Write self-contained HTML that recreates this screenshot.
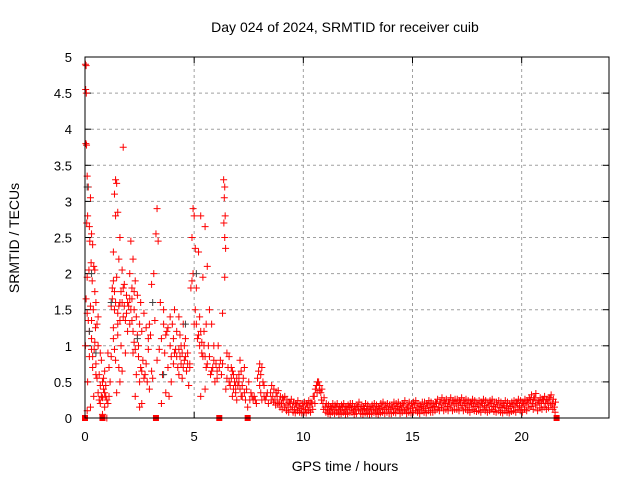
<!DOCTYPE html>
<html><head><meta charset="utf-8"><style>
body{margin:0;background:#fff}
svg{display:block;font-family:"Liberation Sans",sans-serif}
</style></head><body>
<svg id="c" width="640" height="480" xmlns="http://www.w3.org/2000/svg">
<rect width="640" height="480" fill="#fff"/>
<text x="345" y="32" font-size="14" text-anchor="middle">Day 024 of 2024, SRMTID for receiver cuib</text>
<text x="345" y="471" font-size="14" text-anchor="middle">GPS time / hours</text>
<text transform="translate(19,238) rotate(-90)" font-size="14" text-anchor="middle">SRMTID / TECUs</text>
<g id="grid"></g><g id="ticks"></g><g id="marks"></g>
<rect x="85" y="57" width="524" height="361" fill="none" stroke="#000" stroke-width="1"/>
</svg>
<script>
const xTicks=[0,5,10,15,20];
const yTicks=[0,0.5,1,1.5,2,2.5,3,3.5,4,4.5,5];
const yTickLabels=["0","0.5","1","1.5","2","2.5","3","3.5","4","4.5","5"];
const early=[
[0.02,4.9],[0.05,4.88],[0.03,4.55],[0.06,4.5],[0.04,3.8],[0.07,3.78],[0.1,3.35],[0.15,3.2],[0.25,3.05],[0.12,2.8],[0.08,2.7],[0.2,2.65],[0.3,2.55],[0.22,2.45],[0.35,2.4],[0.28,2.15],[0.4,2.1],[0.18,2.05],[0.1,1.95],[0.33,1.9],[0.45,1.75],[0.05,1.65],[0.25,1.55],[0.38,1.5],[0.15,1.35],[0.48,1.25],[0.3,1.1],[0.02,1.0],[0.42,0.95],[0.2,0.85],[0.35,0.7],[0.5,0.6],[0.12,0.5],[0.4,0.3],[0.25,0.15],[0.1,0.1],
[0.55,1.3],[0.6,1.0],[0.7,0.9],[0.75,0.8],[0.65,0.6],[0.8,0.5],[0.85,0.4],[0.9,0.35],[0.95,0.3],[1.0,0.25],[1.05,0.2],[0.9,0.15],[0.8,0.05],[1.0,0.0],[0.6,1.4],[1.1,0.7],[1.15,0.5],[0.7,0.45],
[1.75,3.75],[1.4,3.3],[1.45,3.25],[1.35,3.1],[1.5,2.85],[1.4,2.8],[1.6,2.5],[1.3,2.3],[1.55,2.2],[1.7,2.05],[1.45,1.95],[1.8,1.85],[1.25,1.8],[1.9,1.7],[1.6,1.6],[1.35,1.5],[1.75,1.4],[1.5,1.3],[1.95,1.2],[1.3,1.1],[1.65,1.0],[1.85,0.9],[1.4,0.8],[1.55,0.7],[1.7,0.65],[1.6,0.5],[1.45,0.35],
[2.1,2.45],[2.2,2.2],[2.05,2.0],[2.3,1.9],[2.15,1.8],[2.4,1.7],[2.55,1.6],[2.25,1.5],[2.7,1.45],[2.35,1.4],[2.5,1.3],[2.8,1.25],[2.6,1.2],[2.9,1.1],[2.45,1.0],[2.2,0.9],[2.65,0.8],[2.75,0.6],[2.85,0.5],[2.95,0.4],[2.3,0.3],[2.6,0.2],[2.5,0.15],
[3.3,2.9],[3.25,2.55],[3.35,2.45],[3.15,2.0],[3.05,1.85],[3.45,1.6],[3.6,1.5],[3.2,1.35],[3.75,1.2],[3.5,1.1],[3.9,1.0],[3.4,0.95],[3.65,0.9],[3.3,0.8],[3.8,0.7],[3.55,0.6],[3.95,0.5],[3.7,0.35],[3.85,0.3],[3.5,0.2],
[4.1,1.5],[4.3,1.4],[4.5,1.3],[4.2,1.2],[4.6,1.1],[4.4,1.0],[4.15,0.95],[4.7,0.9],[4.35,0.85],[4.55,0.8],[4.8,0.75],[4.25,0.7],[4.65,0.65],[4.45,0.55],[4.75,0.45],[4.85,1.8],[4.9,1.9],[4.95,2.0],[4.95,2.9],[5.0,2.8],[4.9,2.5],[5.05,2.35],
[5.3,2.8],[5.5,2.65],[5.2,2.3],[5.6,2.1],[5.4,1.95],[5.1,1.8],[5.7,1.5],[5.25,1.4],[5.8,1.3],[5.45,1.2],[5.15,1.1],[5.65,1.0],[5.35,0.9],[5.9,0.8],[5.55,0.7],[5.75,0.6],[5.95,0.5],[5.5,0.4],[5.3,0.3],
[6.35,3.3],[6.4,3.2],[6.38,3.05],[6.42,2.8],[6.36,2.7],[6.4,2.5],[6.44,2.35],[6.4,1.95],[6.3,1.45],[6.1,1.0],[6.5,0.9],[6.2,0.8],[6.7,0.7],[6.05,0.65],[6.8,0.6],[6.6,0.5],[6.9,0.45],[6.45,0.4],[6.75,0.3],[6.95,0.25],
[7.1,0.8],[7.3,0.7],[7.05,0.6],[7.5,0.5],[7.2,0.45],[7.4,0.4],[7.6,0.35],[7.15,0.3],[7.7,0.25],[7.85,0.2],[7.45,0.15],
[8.0,0.75],[8.1,0.7],[8.05,0.6],[8.15,0.5],[8.2,0.45],[8.3,0.3],[8.1,0.25],[8.4,0.2]
];
const early2=[
[0.1,1.45],[0.2,1.2],[0.3,0.95],[0.35,0.85],[0.45,1.05],[0.5,0.75],[0.55,0.55],[0.6,0.35],[0.65,0.25],[0.7,0.2],[0.75,0.3],[0.8,0.28],[0.85,0.55],[0.9,0.65],[0.95,0.45],[1.05,0.9],[1.1,0.3],[0.5,1.6],[0.45,2.05],[0.3,1.35],
[1.2,1.55],[1.25,1.65],[1.3,1.9],[1.35,1.75],[1.4,1.6],[1.5,1.45],[1.55,1.55],[1.6,1.35],[1.65,1.75],[1.7,1.6],[1.75,1.8],[1.8,1.55],[1.85,1.35],[1.9,1.45],[1.95,1.6],[2.0,1.55],[2.05,1.3],[2.1,1.5],[1.3,1.25],[1.35,0.95],[1.5,1.15],[1.2,0.85],
[2.15,1.35],[2.2,1.2],[2.25,1.05],[2.3,0.95],[2.4,1.15],[2.45,0.85],[2.55,0.7],[2.6,0.65],[2.7,0.55],[2.8,0.75],[2.9,0.95],[2.95,1.3],[3.0,1.15],[3.05,0.65],[3.1,0.55],[2.5,0.5],[2.35,0.6],[2.15,1.65],[2.25,1.75],[2.05,1.65],
[3.6,1.3],[3.7,1.15],[3.8,1.25],[3.9,1.4],[4.0,1.3],[4.05,1.1],[4.1,0.9],[4.2,0.85],[4.3,0.95],[4.35,1.15],[4.45,0.9],[4.5,0.7],[4.55,1.0],[4.6,0.85],[4.7,0.75],[4.8,0.7],[4.3,0.6],[4.4,0.75],[3.95,0.85],[4.05,0.75],
[5.0,1.3],[5.05,1.5],[5.1,1.3],[5.2,1.15],[5.25,1.0],[5.3,1.2],[5.35,1.05],[5.4,0.85],[5.45,1.0],[5.5,0.85],[5.55,1.3],[5.6,0.75],[5.7,0.85],[5.8,0.65],[5.85,0.7],[5.9,1.0],[6.0,0.75],[6.05,0.55],[6.15,0.7],[6.25,0.6],
[6.3,0.75],[6.5,0.55],[6.55,0.7],[6.6,0.85],[6.65,0.45],[6.7,0.55],[6.8,0.4],[6.85,0.5],[6.9,0.35],[6.95,0.55],[7.0,0.45],[7.05,0.5],[7.1,0.4],[7.15,0.65],[7.2,0.3],[7.3,0.35],[7.35,0.25],[7.55,0.25],[7.65,0.3],[7.8,0.25],
[7.9,0.55],[7.95,0.65],[8.0,0.45],[8.05,0.35],[8.2,0.3],[8.25,0.25],[8.35,0.35],[7.75,0.3],[7.25,0.55],[6.75,0.65]
];
const blackPts=[[0.1,3.2],[0.3,2.0],[0.5,0.9],[1.2,1.6],[2.4,1.1],[3.1,1.6],[3.6,0.6],[4.6,1.3],[5.1,2.0],[0.2,1.2]];
const tailStart=8.5, tailStep=0.1;
const tailVals=[.35,.3,.25,.3,.22,
.2,.25,.18,.15,.2,.15,.12,.18,.15,.13,
.15,.12,.18,.15,.2,.3,.45,.5,.35,.2,
.15,.12,.1,.14,.12,.15,.1,.12,.15,.1,
.12,.15,.14,.1,.12,.16,.12,.1,.13,.12,
.1,.12,.14,.12,.1,.13,.15,.12,.14,.12,
.12,.15,.13,.16,.12,.14,.18,.12,.15,.13,
.15,.18,.14,.12,.16,.15,.13,.18,.15,.14,
.16,.2,.15,.22,.18,.2,.16,.22,.18,.2,
.2,.18,.22,.17,.2,.18,.15,.2,.18,.16,
.18,.15,.2,.17,.15,.18,.2,.16,.15,.18,
.15,.14,.17,.15,.13,.16,.18,.15,.2,.17,
.15,.2,.18,.22,.25,.2,.28,.18,.22,.2,
.25,.2,.22,.28,.2,.15];
const tailUpper=[.45,.4,.35,.38,.3,
.28,.3,.25,.22,.26,.22,.2,.24,.2,.2,
.22,.2,.24,.22,.3,.4,.5,.45,.4,.28,
.2,.18,.16,.2,.18,.2,.16,.18,.2,.16,
.18,.2,.2,.16,.18,.22,.18,.16,.2,.18,
.16,.18,.2,.18,.16,.2,.22,.18,.2,.18,
.18,.22,.2,.22,.18,.2,.24,.18,.22,.2,
.22,.24,.2,.18,.22,.22,.2,.24,.22,.2,
.22,.26,.22,.28,.24,.26,.22,.28,.24,.26,
.26,.24,.28,.24,.26,.24,.22,.26,.24,.22,
.24,.22,.26,.24,.22,.24,.26,.22,.22,.24,
.22,.2,.24,.22,.2,.22,.24,.22,.26,.24,
.22,.26,.24,.28,.32,.26,.34,.24,.28,.26,
.3,.26,.28,.32,.26,.22];
const tailLower=[.25,.22,.18,.2,.15,
.12,.15,.1,.08,.12,.08,.07,.1,.08,.07,
.08,.07,.1,.08,.12,.2,.35,.38,.25,.12,
.08,.06,.05,.08,.06,.08,.05,.06,.08,.05,
.06,.08,.08,.05,.06,.1,.06,.05,.07,.06,
.05,.06,.08,.06,.05,.07,.08,.06,.08,.06,
.06,.08,.07,.1,.06,.08,.1,.06,.08,.07,
.08,.1,.08,.06,.1,.08,.07,.1,.08,.08,
.1,.12,.1,.14,.1,.12,.1,.14,.1,.12,
.12,.1,.14,.1,.12,.1,.08,.12,.1,.09,
.1,.08,.12,.1,.08,.1,.12,.09,.08,.1,
.08,.07,.1,.08,.07,.09,.1,.08,.12,.1,
.08,.12,.1,.14,.16,.12,.18,.1,.14,.12,
.15,.12,.14,.18,.12,.08];
const zeroPts=[0.0,0.8,3.25,6.15,7.45,21.6];
const X=t=>85+t*(524/24), Y=v=>418-v*(361/5);
const NS="http://www.w3.org/2000/svg";
function mk(tag,attrs,parent){const e=document.createElementNS(NS,tag);for(const k in attrs)e.setAttribute(k,attrs[k]);parent.appendChild(e);return e;}
const grid=document.getElementById('grid'),ticks=document.getElementById('ticks'),marks=document.getElementById('marks');
xTicks.forEach(t=>{const x=X(t);
 if(t>0){const g=mk('line',{x1:x,x2:x,y1:57,y2:418,stroke:'#a0a0a0','stroke-dasharray':'3,3'},grid);
 
 }
 const l=mk('text',{x:x,y:441,'font-size':13,'text-anchor':'middle'},ticks);l.textContent=t;
 
 
 mk('line',{x1:x,x2:x,y1:418,y2:412,stroke:'#000'},ticks);mk('line',{x1:x,x2:x,y1:57,y2:63,stroke:'#000'},ticks);});
yTicks.forEach((v,i)=>{const y=Y(v);
 if(v>0&&v<5){const g=mk('line',{x1:85,x2:609,y1:y,y2:y,stroke:'#a0a0a0','stroke-dasharray':'3,3'},grid);
 
 }
 const l=mk('text',{x:72,y:y+5,'font-size':13,'text-anchor':'end'},ticks);l.textContent=yTickLabels[i];
 
 
 mk('line',{x1:85,x2:91,y1:y,y2:y,stroke:'#000'},ticks);mk('line',{x1:603,x2:609,y1:y,y2:y,stroke:'#000'},ticks);});
let d='';
function plus(t,v){const x=X(t),y=Y(v);return `M${x-3.5} ${y}h7M${x} ${y-3.5}v7`;}
early.forEach(p=>d+=plus(p[0],p[1]));
early2.forEach(p=>d+=plus(p[0],p[1]));
tailVals.forEach((v,i)=>{const t=tailStart+i*tailStep;d+=plus(t,v);d+=plus(t+0.05,tailUpper[i]);d+=plus(t+0.03,tailLower[i]);});
const red=mk('path',{d:d,stroke:'#f00','stroke-width':1,fill:'none'},marks);


let db='';blackPts.forEach(p=>db+=plus(p[0],p[1]));
const blk=mk('path',{d:db,stroke:'#444','stroke-width':1,fill:'none'},marks);


zeroPts.forEach(t=>{const r=mk('rect',{x:X(t)-3,y:415,width:6,height:6,fill:'#f00'},marks);
 
 });
</script>
</body></html>
